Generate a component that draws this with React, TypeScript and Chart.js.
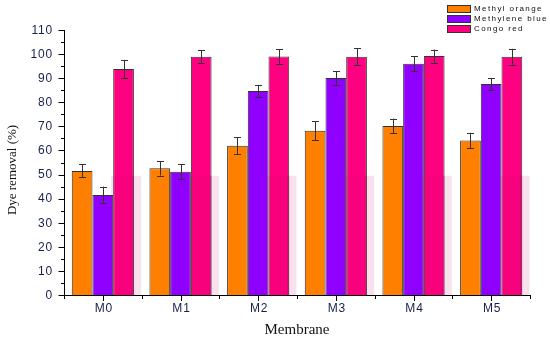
import React, { useEffect, useRef } from "react";
import { Chart, registerables } from "chart.js";

Chart.register(...registerables);

const categories = ["M0", "M1", "M2", "M3", "M4", "M5"];
const seriesNames = ["Methyl orange", "Methylene blue", "Congo red"];
const methylOrange = [51.5, 52.6, 62.0, 68.2, 70.2, 64.1];
const methyleneBlue = [41.5, 51.2, 84.7, 90.1, 96.0, 87.6];
const congoRed = [93.8, 98.9, 99.0, 98.9, 99.2, 98.9];
const methylOrangeErr = [2.7, 3.0, 3.5, 3.9, 3.0, 3.2];
const methyleneBlueErr = [3.5, 3.0, 2.5, 2.9, 3.2, 2.5];
const congoRedErr = [3.8, 2.8, 3.0, 3.5, 2.7, 3.3];
const yTicks = [0, 10, 20, 30, 40, 50, 60, 70, 80, 90, 100, 110];
const ghostLevel = 49.5;

const colors = ["#FF8000", "#9000FF", "#FF0080"];
const errs = [methylOrangeErr, methyleneBlueErr, congoRedErr];

const customPlugin = {
  id: "custom",
  afterDatasetsDraw(chart: any) {
    const ctx = chart.ctx;
    const y = chart.scales.y;
    // ghost overlay
    const pinkMeta = chart.getDatasetMeta(2);
    ctx.save();
    pinkMeta.data.forEach((bar: any) => {
      const w = bar.width;
      const l = bar.x - w / 2 - 2;
      const r = bar.x + w / 2 + w * 0.35;
      const t = y.getPixelForValue(ghostLevel);
      const b = y.getPixelForValue(0);
      ctx.fillStyle = "rgba(190,10,110,0.12)";
      ctx.fillRect(l, t, r - l, b - t);
      ctx.fillStyle = "rgba(150,0,80,0.25)";
      ctx.fillRect(bar.x + w / 2 - 2, t, 2, b - t);
    });
    // error bars
    ctx.strokeStyle = "#333";
    ctx.lineWidth = 1;
    for (let d = 0; d < 3; d++) {
      const meta = chart.getDatasetMeta(d);
      meta.data.forEach((bar: any, i: number) => {
        const v = chart.data.datasets[d].data[i];
        const e = errs[d][i];
        const yt = y.getPixelForValue(v + e);
        const yb = y.getPixelForValue(v - e);
        const cx = Math.round(bar.x) + 0.5;
        ctx.beginPath();
        ctx.moveTo(cx, yt);
        ctx.lineTo(cx, yb);
        ctx.moveTo(cx - 3.5, Math.round(yt) + 0.5);
        ctx.lineTo(cx + 3.5, Math.round(yt) + 0.5);
        ctx.moveTo(cx - 3.5, Math.round(yb) + 0.5);
        ctx.lineTo(cx + 3.5, Math.round(yb) + 0.5);
        ctx.stroke();
      });
    }
    ctx.restore();
  },
  afterDraw(chart: any) {
    const ctx = chart.ctx;
    const x = chart.scales.x;
    const y = chart.scales.y;
    const area = chart.chartArea;
    ctx.save();
    ctx.strokeStyle = "#000";
    ctx.lineWidth = 1;
    // y ticks
    const ax = Math.round(area.left) + 0.5;
    ctx.beginPath();
    for (let v = 0; v <= 110; v += 5) {
      const py = Math.round(y.getPixelForValue(v)) + 0.5;
      const len = v % 10 === 0 ? 6 : 3.5;
      ctx.moveTo(ax - len, py);
      ctx.lineTo(ax, py);
    }
    // x ticks
    const by = Math.round(area.bottom) + 0.5;
    const n = categories.length;
    const step = (area.right - area.left) / n;
    for (let i = 0; i <= n; i++) {
      const px = Math.round(area.left + i * step) + 0.5;
      ctx.moveTo(px, by);
      ctx.lineTo(px, by + 3.5);
    }
    categories.forEach((_, i) => {
      const px = Math.round(x.getPixelForValue(i)) + 0.5;
      ctx.moveTo(px, by);
      ctx.lineTo(px, by + 5.5);
    });
    ctx.stroke();

    // tick labels
    ctx.fillStyle = "#16204a";
    ctx.font = "12px 'Liberation Sans', Arial, sans-serif";
    (ctx as any).letterSpacing = "0.8px";
    ctx.textAlign = "right";
    ctx.textBaseline = "middle";
    yTicks.forEach((v) => {
      ctx.fillText(String(v), 53, y.getPixelForValue(v) + 0.5);
    });
    ctx.textAlign = "center";
    categories.forEach((c, i) => {
      ctx.fillText(c, x.getPixelForValue(i) + 1, area.bottom + 14);
    });

    // axis titles
    (ctx as any).letterSpacing = "0px";
    ctx.fillStyle = "#111";
    ctx.font = "15px 'Liberation Serif', 'Times New Roman', serif";
    ctx.textAlign = "center";
    ctx.textBaseline = "alphabetic";
    ctx.fillText("Membrane", (area.left + area.right) / 2, 334);
    ctx.save();
    ctx.translate(16, 170);
    ctx.rotate(-Math.PI / 2);
    ctx.font = "13px 'Liberation Serif', 'Times New Roman', serif";
    ctx.fillText("Dye removal (%)", 0, 0);
    ctx.restore();

    // legend
    ctx.font = "8px 'Liberation Sans', Arial, sans-serif";
    (ctx as any).letterSpacing = "1.4px";
    ctx.textAlign = "left";
    ctx.textBaseline = "middle";
    seriesNames.forEach((name, i) => {
      const cy = 8.7 + i * 10;
      ctx.fillStyle = colors[i];
      ctx.fillRect(447, cy - 3.5, 24, 7);
      ctx.strokeStyle = "#333";
      ctx.strokeRect(447.5, Math.round(cy - 3.5) + 0.5, 23, 7);
      ctx.fillStyle = "#111";
      ctx.fillText(name, 474, cy + 0.5);
    });
    ctx.restore();
  },
};

export default function App() {
  const ref = useRef<HTMLCanvasElement>(null);
  useEffect(() => {
    document.body.style.margin = "0";
    const chart = new Chart(ref.current as HTMLCanvasElement, {
      type: "bar",
      data: {
        labels: categories,
        datasets: [methylOrange, methyleneBlue, congoRed].map((d, i) => ({
          label: seriesNames[i],
          data: d,
          backgroundColor: colors[i],
          borderColor: "#333",
          borderWidth: 1,
          categoryPercentage: 0.8,
          barPercentage: 1.0,
        })),
      },
      options: {
        animation: false,
        responsive: true,
        maintainAspectRatio: false,
        layout: { padding: { top: 30, right: 20, left: 0, bottom: 0 } },
        plugins: { legend: { display: false }, tooltip: { enabled: false } },
        scales: {
          x: {
            grid: { display: false },
            border: { display: true, color: "#000", width: 1 },
            ticks: { display: false },
            afterFit: (s: any) => {
              s.height = 45;
            },
          },
          y: {
            min: 0,
            max: 110,
            grid: { display: false },
            border: { display: true, color: "#000", width: 1 },
            ticks: { display: false, stepSize: 10 },
            afterFit: (s: any) => {
              s.width = 64;
            },
          },
        },
      },
      plugins: [customPlugin],
    } as any);
    return () => chart.destroy();
  }, []);
  return (
    <div style={{ position: "relative", width: 550, height: 340 }}>
      <canvas ref={ref} />
    </div>
  );
}
